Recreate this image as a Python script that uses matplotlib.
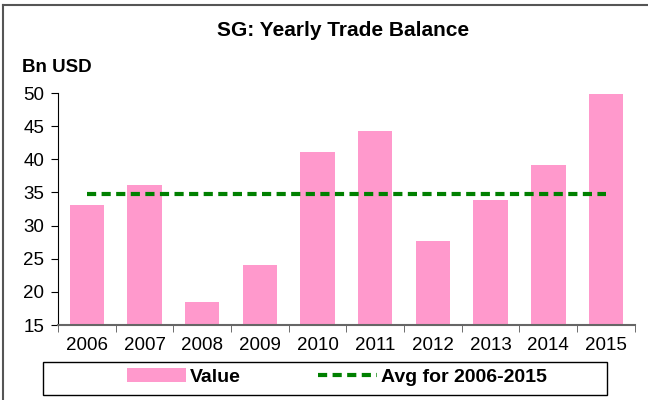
import matplotlib.pyplot as plt
from matplotlib.patches import Rectangle
from matplotlib.lines import Line2D

plt.rcParams['font.family'] = ['Liberation Sans', 'DejaVu Sans']

# Data
years = ['2006', '2007', '2008', '2009', '2010', '2011', '2012', '2013', '2014', '2015']
values = [33.1, 36.1, 18.4, 24.1, 41.1, 44.2, 27.6, 33.9, 39.1, 49.9]
avg_value = 34.75
y_ticks = [15, 20, 25, 30, 35, 40, 45, 50]

fig = plt.figure(figsize=(6.48, 4.0), dpi=100)
ax = fig.add_axes([0.0895, 0.1875, 0.89, 0.58])

x = list(range(len(years)))
bars = ax.bar(x, values, width=0.6, color='#FF99CC', bottom=0, label='Value', zorder=2)
line, = ax.plot([x[0], x[-1]], [avg_value, avg_value], color='#008000', linestyle=(0, (2.2, 1.3)),
                linewidth=3, label='Avg for 2006-2015', zorder=3)

ax.set_ylim(15, 50)
ax.set_xlim(-0.5, len(years) - 0.5)
ax.set_yticks(y_ticks)
ax.set_yticklabels([str(t) for t in y_ticks], fontsize=13.5)
ax.set_xticks(x)
ax.set_xticklabels(years, fontsize=13.5)
ax.tick_params(axis='x', length=0, pad=9)
ax.set_xticks([i + 0.5 for i in range(-1, len(years))], minor=True)
ax.tick_params(axis='x', which='minor', length=5, direction='out', color='#555555')
ax.tick_params(axis='y', length=5, direction='out', pad=5)
for s in ['top', 'right']:
    ax.spines[s].set_visible(False)
ax.spines['bottom'].set_color('#666666')
ax.spines['bottom'].set_linewidth(1.5)
ax.spines['left'].set_color('black')

fig.text(0.53, 0.925, 'SG: Yearly Trade Balance', ha='center', va='center',
         fontsize=15, fontweight='bold')
fig.text(0.034, 0.83, 'Bn USD', ha='left', va='center', fontsize=13.5, fontweight='bold')

leg = fig.legend(handles=[bars, line], loc='center', bbox_to_anchor=(0.52, 0.0575),
                 ncol=2, frameon=False, prop={'weight': 'bold', 'size': 14},
                 handlelength=3.0, columnspacing=4.0, handletextpad=0.2)

# legend frame
fig.patches.append(Rectangle((43 / 648, 1 - 395 / 400), 564 / 648, 33 / 400,
                             transform=fig.transFigure, fill=False,
                             edgecolor='black', linewidth=1.0))

# outer border of the chart (top and left edges visible)
fig.lines.append(Line2D([0.005, 0.005], [0, 0.987], transform=fig.transFigure,
                        color='#555555', linewidth=1.5))
fig.lines.append(Line2D([0.005, 1.0], [0.987, 0.987], transform=fig.transFigure,
                        color='#555555', linewidth=1.5))

fig.savefig('out.png', dpi=100)
